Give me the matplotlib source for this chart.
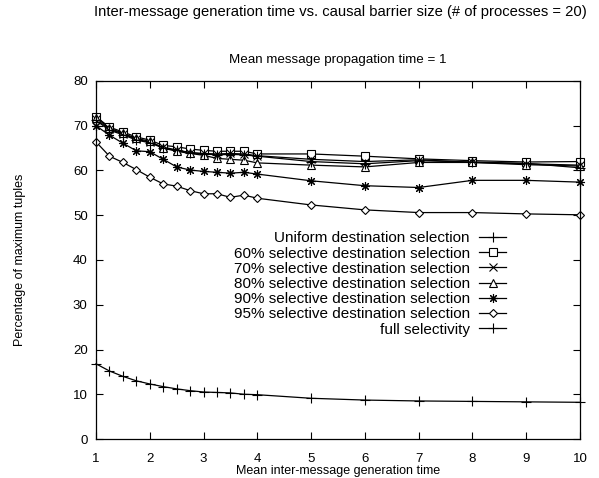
"""Causal barrier size vs. inter-message generation time (gnuplot-style)."""

import matplotlib

matplotlib.use("Agg")
import matplotlib.pyplot as plt

gen_time = [1, 1.25, 1.5, 1.75, 2, 2.25, 2.5, 2.75, 3, 3.25, 3.5, 3.75, 4, 5, 6, 7, 8, 9, 10]

uniform = [16.8, 15.2, 14.0, 13.0, 12.3, 11.7, 11.2, 10.8, 10.5, 10.4, 10.3, 10.0, 9.9,
           9.1, 8.7, 8.5, 8.4, 8.3, 8.2]
sel_60 = [72.0, 69.7, 68.6, 67.5, 66.8, 65.6, 65.3, 64.8, 64.5, 64.3, 64.3, 64.3, 63.7,
          63.7, 63.2, 62.6, 62.2, 61.9, 62.0]
sel_70 = [71.5, 69.2, 68.2, 67.0, 66.3, 65.2, 64.6, 64.0, 63.8, 63.7, 63.8, 63.7, 63.3,
          62.5, 62.0, 62.4, 61.8, 61.5, 61.2]
sel_80 = [71.8, 69.5, 68.3, 67.2, 66.5, 65.0, 64.3, 63.8, 63.4, 62.7, 62.5, 62.3, 61.7,
          61.2, 60.8, 61.8, 61.8, 61.3, 61.0]
sel_90 = [70.0, 67.9, 66.1, 64.4, 64.2, 62.5, 60.8, 60.1, 59.8, 59.6, 59.4, 59.6, 59.2,
          57.7, 56.6, 56.2, 57.8, 57.8, 57.4]
sel_95 = [66.4, 63.2, 61.8, 60.2, 58.5, 57.0, 56.5, 55.5, 54.8, 54.8, 54.0, 54.5, 53.8,
          52.3, 51.2, 50.6, 50.6, 50.3, 50.1]
full_sel = [71.2, 69.0, 68.0, 66.8, 66.2, 65.0, 64.5, 64.0, 63.7, 63.5, 63.6, 63.5, 63.2,
            62.0, 61.5, 62.2, 61.9, 61.6, 60.6]

labels = [
    "Uniform destination selection",
    "60% selective destination selection",
    "70% selective destination selection",
    "80% selective destination selection",
    "90% selective destination selection",
    "95% selective destination selection",
    "full selectivity",
]
series = [uniform, sel_60, sel_70, sel_80, sel_90, sel_95, full_sel]
markers = ["+", "s", "x", "^", (8, 2, 0), "D", "+"]
sizes = [7, 6, 6, 6, 6.5, 4.5, 7]

plt.rcParams["font.family"] = ["Liberation Sans", "DejaVu Sans"]
plt.rcParams["font.size"] = 9

fig = plt.figure(figsize=(5.99, 4.78), dpi=100)
ax = fig.add_axes([96 / 599, 1 - 439 / 478, 484 / 599, 358 / 478])

for vals, lab, mk, ms in zip(series, labels, markers, sizes):
    ax.plot(gen_time, vals, color="black", linewidth=0.9, marker=mk, markersize=ms,
            markerfacecolor="white", markeredgecolor="black", markeredgewidth=0.8,
            label=lab, clip_on=False)

ax.set_xlim(1, 10)
ax.set_ylim(0, 80)
ax.set_xticks(range(1, 11))
ax.set_yticks(range(0, 81, 10))
ax.tick_params(direction="in", top=True, right=True, length=5, width=0.8, labelsize=9.5)
ax.tick_params(axis="x", pad=10)
ax.tick_params(axis="y", pad=6)
for sp in ax.spines.values():
    sp.set_linewidth(0.9)

ax.set_xlabel("Mean inter-message generation time", labelpad=0)
ax.set_ylabel("Percentage of maximum tuples", labelpad=34)
ax.set_title("Mean message propagation time = 1", pad=13, fontsize=9.6)
fig.text(340 / 599, 1 - 12 / 478, "Inter-message generation time vs. causal barrier size "
         "(# of processes = 20)", ha="center", va="center", fontsize=10.6)

ax.legend(loc="center", bbox_to_anchor=(0.566, 0.433), frameon=False, markerfirst=False,
          fontsize=11, handlelength=1.8, handletextpad=0.6, labelspacing=0.08, borderpad=0)

fig.savefig("out.png", dpi=100)
